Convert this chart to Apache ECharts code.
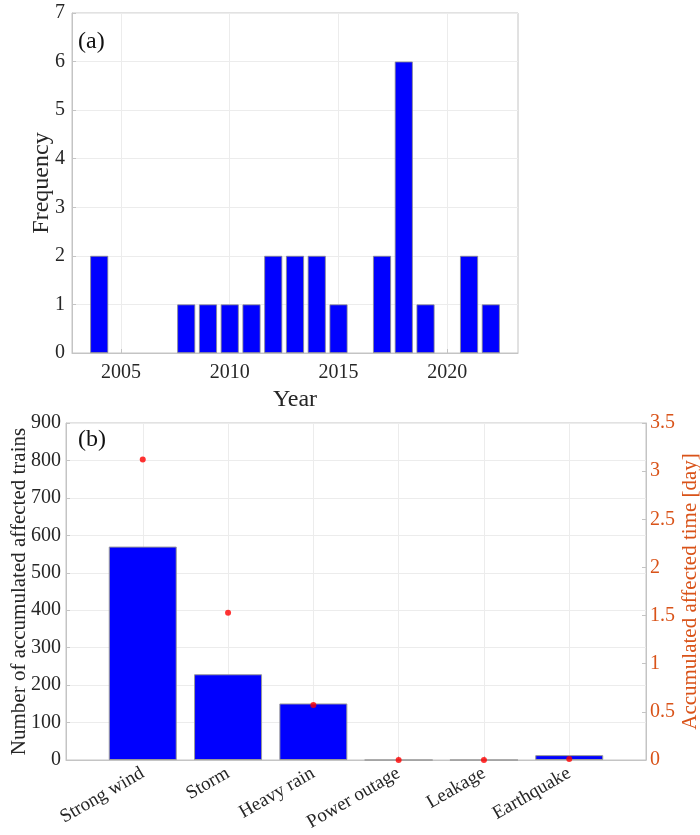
<!DOCTYPE html>
<html><head><meta charset="utf-8">
<script src="https://cdn.jsdelivr.net/npm/echarts@6/dist/echarts.min.js"></script>
<style>html,body{margin:0;padding:0;background:#fff}#c{width:700px;height:835px}</style>
</head><body><div id="c"></div>
<script>
// Panel (a)
const years = [2004, 2008, 2009, 2010, 2011, 2012, 2013, 2014, 2015, 2017, 2018, 2019, 2021, 2022];
const frequency = [2, 1, 1, 1, 1, 2, 2, 2, 1, 2, 6, 1, 2, 1];
const yearTicks = [2005, 2010, 2015, 2020];
// Panel (b)
const causes = ['Strong wind', 'Storm', 'Heavy rain', 'Power outage', 'Leakage', 'Earthquake'];
const affectedTrains = [570, 229, 151, 0, 0, 13];
const affectedDays = [3.12, 1.53, 0.57, 0.0, 0.0, 0.01];

const FONT = 'Liberation Serif';
const TXT = '#262626';
const FRAME = '#c4c4c4';
const GRIDC = '#ececec';
const ORANGE = '#D95319';

const chart = echarts.init(document.getElementById('c'), null, {renderer: 'canvas'});
const causePos = causes.map((c, i) => i + 1);

chart.setOption({
  backgroundColor: '#fff',
  animation: false,
  textStyle: {fontFamily: FONT},
  grid: [
    {left: 72, top: 13, right: 182, bottom: 482, show: true, borderColor: FRAME, borderWidth: 1, outerBoundsMode: 'none', containLabel: false},
    {left: 66, top: 423, right: 54, bottom: 75, show: true, borderColor: FRAME, borderWidth: 1, outerBoundsMode: 'none', containLabel: false}
  ],
  graphic: [
    {type: 'text', left: 78, top: 30, style: {text: '(a)', font: '24px "Liberation Serif"', fill: '#111'}},
    {type: 'text', left: 78, top: 428, style: {text: '(b)', font: '24px "Liberation Serif"', fill: '#111'}}
  ],
  xAxis: [
    {
      type: 'value', gridIndex: 0, min: 2002.75, max: 2023.25,
      name: 'Year', nameLocation: 'middle', nameGap: 35,
      nameTextStyle: {fontFamily: FONT, fontSize: 24, color: TXT},
      axisLine: {show: true, lineStyle: {color: FRAME}},
      axisTick: {show: true, inside: true, length: 4, lineStyle: {color: FRAME}, customValues: yearTicks},
      axisLabel: {fontFamily: FONT, fontSize: 20, color: TXT, margin: 10, customValues: yearTicks, formatter: v => String(v)},
      splitLine: {show: true, lineStyle: {color: GRIDC}}
    },
    {
      type: 'value', gridIndex: 1, min: 0.1, max: 6.9,
      axisLine: {show: true, lineStyle: {color: FRAME}},
      axisTick: {show: true, inside: true, length: 4, lineStyle: {color: FRAME}, customValues: causePos},
      axisLabel: {fontFamily: FONT, fontSize: 19, color: TXT, rotate: 30, margin: 12, customValues: causePos,
        formatter: v => causes[Math.round(v) - 1] || ''},
      splitLine: {show: true, lineStyle: {color: GRIDC}}
    }
  ],
  yAxis: [
    {
      type: 'value', gridIndex: 0, min: 0, max: 7, interval: 1,
      name: 'Frequency', nameLocation: 'middle', nameGap: 18, nameMoveOverlap: false,
      nameTextStyle: {fontFamily: FONT, fontSize: 24, color: TXT},
      axisLine: {show: true, lineStyle: {color: FRAME}},
      axisTick: {show: true, inside: true, length: 4, lineStyle: {color: FRAME}},
      axisLabel: {fontFamily: FONT, fontSize: 20, color: TXT, margin: 7},
      splitLine: {show: true, lineStyle: {color: GRIDC}}
    },
    {
      type: 'value', gridIndex: 1, min: 0, max: 900, interval: 100,
      name: 'Number of accumulated affected trains', nameLocation: 'middle', nameGap: 36, nameMoveOverlap: false,
      nameTextStyle: {fontFamily: FONT, fontSize: 21, color: TXT},
      axisLine: {show: true, lineStyle: {color: FRAME}},
      axisTick: {show: true, inside: true, length: 4, lineStyle: {color: FRAME}},
      axisLabel: {fontFamily: FONT, fontSize: 20, color: TXT, margin: 5},
      splitLine: {show: true, lineStyle: {color: GRIDC}}
    },
    {
      type: 'value', gridIndex: 1, position: 'right', min: 0, max: 3.5, interval: 0.5,
      name: 'Accumulated affected time [day]', nameLocation: 'middle', nameGap: 34, nameMoveOverlap: false,
      nameTextStyle: {fontFamily: FONT, fontSize: 21, color: ORANGE},
      axisLine: {show: true, lineStyle: {color: FRAME}},
      axisTick: {show: true, inside: true, length: 4, lineStyle: {color: FRAME}},
      axisLabel: {fontFamily: FONT, fontSize: 20, color: ORANGE, margin: 4},
      splitLine: {show: false}
    }
  ],
  series: [
    {
      type: 'bar', xAxisIndex: 0, yAxisIndex: 0, barWidth: 18,
      data: years.map((y, i) => [y, frequency[i]]),
      itemStyle: {color: '#0000ff', borderColor: '#8c8c8c', borderWidth: 0.8}
    },
    {
      type: 'bar', xAxisIndex: 1, yAxisIndex: 1, barWidth: 68,
      data: causePos.map((p, i) => [p, affectedTrains[i]]),
      itemStyle: {color: '#0000ff', borderColor: '#9a9a9a', borderWidth: 1}
    },
    {
      type: 'scatter', xAxisIndex: 1, yAxisIndex: 2, symbol: 'circle', symbolSize: 6,
      data: causePos.map((p, i) => [p, affectedDays[i]]),
      itemStyle: {color: '#ff0000'}, z: 5
    }
  ]
});
</script>
</body></html>
